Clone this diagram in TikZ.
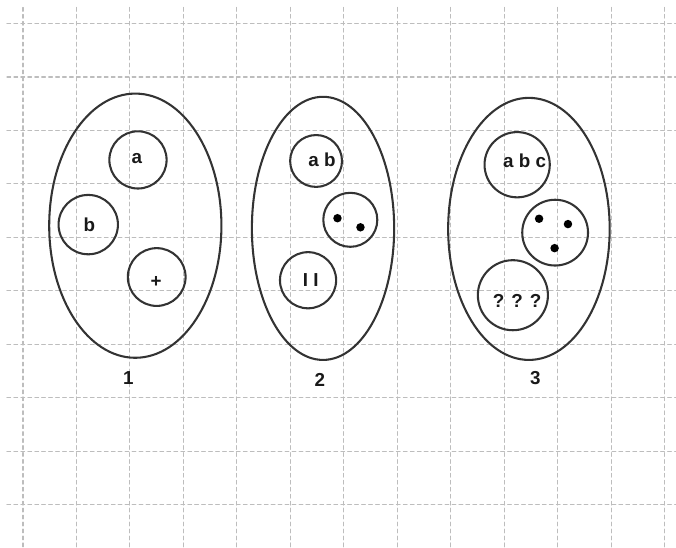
\documentclass[tikz,border=0pt]{standalone}
\usepackage{fontspec}
\setmainfont{Liberation Sans}
\usepackage{tikz}
\definecolor{gridgray}{HTML}{BDBDBD}
\definecolor{inkgray}{HTML}{333333}
\tikzset{
  every picture/.style={font=\fontsize{10}{12}\selectfont\bfseries, line join=round, line cap=round},
  gridline/.style={gridgray, line width=0.55pt, dash pattern=on 2pt off 1.7pt},
  setring/.style={draw=inkgray, line width=1.1pt},
  part/.style={circle, draw=inkgray, line width=1.1pt, inner sep=0pt},
  elem/.style={inner sep=0pt, text=black!90},
  dot/.style={circle, fill=black, inner sep=0pt, minimum size=4.5pt},
}

\begin{document}
\begin{tikzpicture}
\useasboundingbox (-0.43,-0.80) rectangle (12.21,9.44);
% dashed background grid
\foreach \y in {0,...,9}
  \draw[gridline] (-0.3,\y)--(12.21,\y);
\foreach \x in {0,...,12}
  \draw[gridline] (\x,9.3)--(\x,-0.80);
% set 1
\draw[setring] (2.10,5.22) ellipse (1.61 and 2.47);
\node[part,minimum size=1.07cm] (pa) at (2.15,6.45) {};
\node[part,minimum size=1.11cm] (pb) at (1.22,5.24) {};
\node[part,minimum size=1.08cm] (pplus) at (2.50,4.26) {};
\node[elem] (ta) at (2.13,6.47) {a};
\node[elem] (tb) at (1.24,5.23) {b};
\node[elem] (tplus) at (2.49,4.16) {+};
\node[elem] (num1) at (1.97,2.37) {1};
% set 2
\draw[setring] (5.61,5.17) ellipse (1.33 and 2.46);
\node[part,minimum size=0.97cm] (pab) at (5.48,6.43) {};
\node[part,minimum size=1.01cm] (pdots) at (6.12,5.33) {};
\node[part,minimum size=1.05cm] (pii) at (5.33,4.20) {};
\node[elem] (tab) at (5.59,6.45) {a b};
\node[dot] (d1) at (5.88,5.36) {};
\node[dot] (d2) at (6.31,5.19) {};
\node[elem] (tii) at (5.38,4.21) {I I};
\node[elem] (num2) at (5.55,2.34) {2};
% set 3
\draw[setring] (9.46,5.16) ellipse (1.51 and 2.45);
\node[part,minimum size=1.22cm] (pabc) at (9.24,6.36) {};
\node[part,minimum size=1.23cm] (pdotss) at (9.95,5.09) {};
\node[part,minimum size=1.31cm] (pqqq) at (9.16,3.92) {};
\node[elem] (tabc) at (9.38,6.44) {a b c};
\node[dot] (e1) at (9.65,5.35) {};
\node[dot] (e2) at (10.19,5.25) {};
\node[dot] (e3) at (9.94,4.80) {};
\node[elem] (tqqq) at (9.24,3.81) {? ? ?};
\node[elem] (num3) at (9.58,2.37) {3};
\end{tikzpicture}
\end{document}
